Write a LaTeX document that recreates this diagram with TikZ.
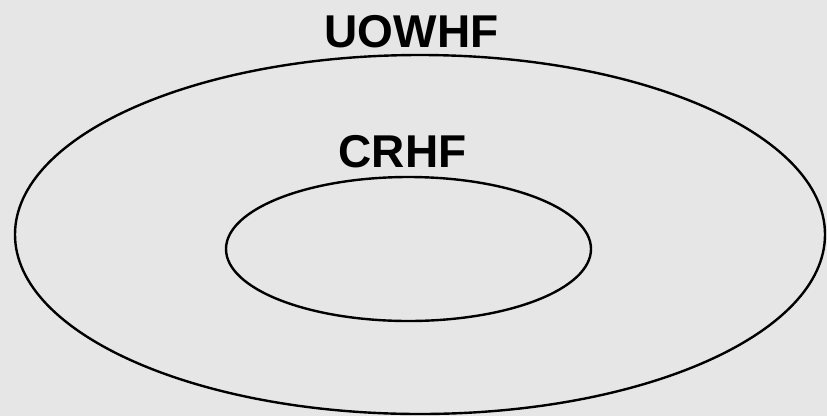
\documentclass[tikz,border=0pt]{standalone}
\usepackage{fontspec}
\setmainfont{Liberation Sans}
\usetikzlibrary{shapes.geometric}
\begin{document}
\begin{tikzpicture}[x=1pt,y=-1pt,
  setbox/.style={ellipse,draw=black,line width=2.4pt,inner sep=0pt},
  setlabel/.style={anchor=base,inner sep=0pt,font=\fontsize{46}{48}\selectfont\bfseries}]
  \fill[fill={rgb,255:red,230;green,230;blue,230}] (0,0) rectangle (827,416);
  \useasboundingbox (0,0) rectangle (827,416);
  \node[setbox,minimum width=810pt,minimum height=359pt] (uowhf) at (420,234.5) {};
  \node[setbox,minimum width=365pt,minimum height=144pt] (crhf) at (408.5,249) {};
  \node[setlabel] (uowhflabel) at (411.5,47.5) {UOWHF};
  \node[setlabel] (crhflabel) at (402.5,167) {CRHF};
\end{tikzpicture}
\end{document}
